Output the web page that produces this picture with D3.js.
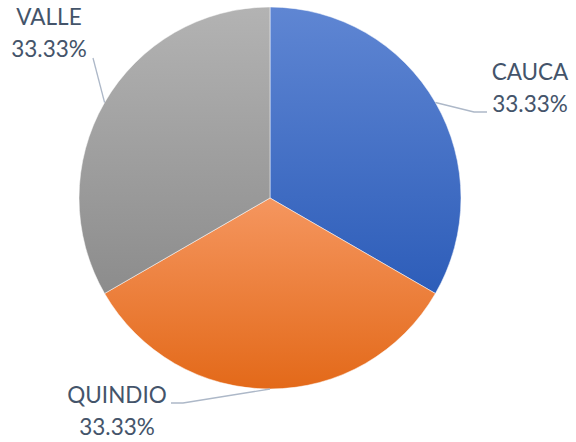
<!DOCTYPE html>
<html>
<head>
<meta charset="utf-8">
<script src="https://cdn.jsdelivr.net/npm/d3@7"></script>
<style>
  html, body { margin: 0; padding: 0; background: #fff; }
  svg { display: block; }
</style>
</head>
<body>
<div id="chart"></div>
<script>
// pie data (equal shares)
const categories = ['CAUCA', 'QUINDIO', 'VALLE'];
const values = [1, 1, 1];

// slice colours: [top, bottom] of the vertical gradient
const colors = [
  ['#5f86d3', '#2d5db9'],
  ['#f5965f', '#e36919'],
  ['#b3b3b3', '#8c8c8c']
];

const W = 576, H = 442;
const cx = 270, cy = 198, R = 191;

// label anchor (text centre, first baseline) and leader line elbow
const labelLayout = {
  CAUCA:   { x: 530, y: 80,  elbow: [[474, 112], [487, 112]] },
  QUINDIO: { x: 117, y: 403, elbow: [[183, 403], [171, 403]] },
  VALLE:   { x: 49,  y: 25,  elbow: [[93, 58]] }
};

const svg = d3.select('#chart').append('svg')
  .attr('width', W)
  .attr('height', H);

const defs = svg.append('defs');
colors.forEach((c, i) => {
  const g = defs.append('linearGradient')
    .attr('id', 'grad' + i)
    .attr('x1', 0).attr('y1', 0).attr('x2', 0).attr('y2', 1);
  g.append('stop').attr('offset', '0%').attr('stop-color', c[0]);
  g.append('stop').attr('offset', '100%').attr('stop-color', c[1]);
});

const pie = d3.pie().sort(null).value(d => d.value);
const data = categories.map((name, i) => ({ name, value: values[i] }));
const arcs = pie(data);
const total = d3.sum(values);

const arc = d3.arc().innerRadius(0).outerRadius(R);
const edge = d3.arc().innerRadius(R).outerRadius(R);

const g = svg.append('g').attr('transform', `translate(${cx},${cy})`);

g.selectAll('path.slice')
  .data(arcs)
  .join('path')
  .attr('class', 'slice')
  .attr('d', arc)
  .attr('fill', (d, i) => `url(#grad${i})`)
  .attr('stroke', '#fff')
  .attr('stroke-width', 0.5);

// leader lines
const line = d3.line();
arcs.forEach(d => {
  const p = edge.centroid(d);
  const lay = labelLayout[d.data.name];
  const pts = [[p[0] + cx, p[1] + cy]].concat(lay.elbow);
  svg.append('path')
    .attr('d', line(pts))
    .attr('fill', 'none')
    .attr('stroke', '#adb8c8')
    .attr('stroke-width', 1.3);
});

// labels
const fmt = d3.format('.2%');
arcs.forEach(d => {
  const lay = labelLayout[d.data.name];
  const t = svg.append('text')
    .attr('x', lay.x)
    .attr('y', lay.y)
    .attr('text-anchor', 'middle')
    .attr('font-family', 'Lato, "Open Sans", sans-serif')
    .attr('font-size', '22.5px')
    .attr('fill', '#44546a');
  t.append('tspan').attr('x', lay.x).text(d.data.name);
  t.append('tspan').attr('x', lay.x).attr('dy', 32).text(fmt(d.data.value / total));
});
</script>
</body>
</html>
